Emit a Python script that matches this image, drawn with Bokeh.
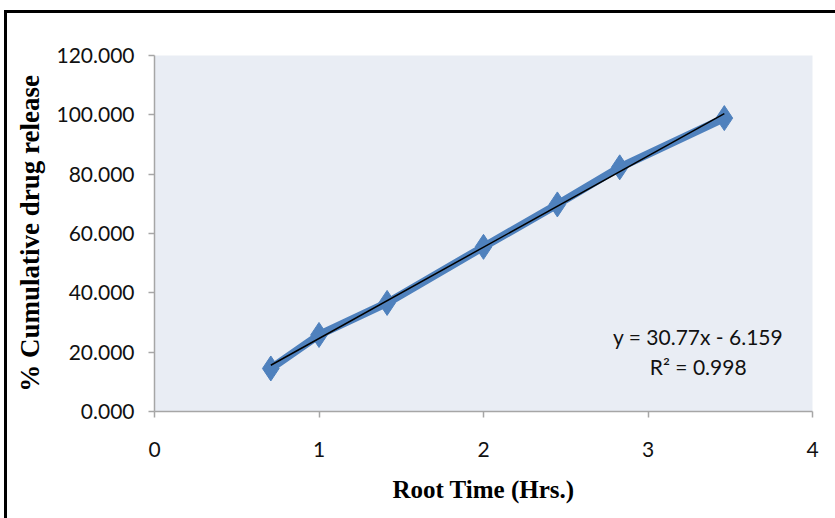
from bokeh.plotting import figure
from bokeh.models import (ColumnDataSource, NumeralTickFormatter, FixedTicker, Range1d,
                          Label)
from bokeh.embed import file_html
from bokeh.resources import INLINE

# ---- data ----
root_time = [0.707, 1.000, 1.414, 2.000, 2.449, 2.828, 3.464]
cum_release = [14.5, 25.8, 36.6, 55.5, 69.8, 82.3, 98.9]
trend_slope = 30.77
trend_intercept = -6.159
r_squared = 0.998
x_ticks = [0, 1, 2, 3, 4]
y_ticks = [0, 20, 40, 60, 80, 100, 120]

BLUE = "#4F81BD"

p = figure(width=828, height=505, output_backend="svg", toolbar_location=None,
           x_range=Range1d(0, 4), y_range=Range1d(0, 120),
           min_border_left=147, min_border_right=23, min_border_top=42,
           min_border_bottom=107, frame_width=658, frame_height=356,
           styles={"border-left": "3px solid black", "border-top": "3px solid black",
                   "margin-left": "4px", "margin-top": "10px"})
p.background_fill_color = "#E9EDF4"
p.border_fill_color = "white"
p.outline_line_color = None
p.xgrid.visible = False
p.ygrid.visible = False

src = ColumnDataSource(dict(x=root_time, y=cum_release))
p.line("x", "y", source=src, line_color=BLUE, line_width=8)
p.scatter("x", "y", source=src, marker="diamond", size=25, fill_color=BLUE,
          line_color=BLUE)

tx = [root_time[0], root_time[-1]]
ty = [trend_slope * v + trend_intercept for v in tx]
p.line(tx, ty, line_color="black", line_width=1.5)

p.add_layout(Label(x=3.305, y=25.3, text=f"y = {trend_slope}x - {abs(trend_intercept)}",
                   text_align="center", text_baseline="middle", text_font="Lato",
                   text_font_size="21px", text_color="#111111"))
p.add_layout(Label(x=3.305, y=15.2, text=f"R² = {r_squared}",
                   text_align="center", text_baseline="middle", text_font="Lato",
                   text_font_size="21px", text_color="#111111"))

for ax in (p.xaxis[0], p.yaxis[0]):
    ax.axis_line_color = "#A6A6A6"
    ax.axis_line_width = 1.5
    ax.major_tick_line_color = "#A6A6A6"
    ax.major_tick_line_width = 1.5
    ax.major_tick_out = 6
    ax.major_tick_in = 0
    ax.minor_tick_out = 0
    ax.minor_tick_in = 0
    ax.major_label_text_font = "Lato"
    ax.major_label_text_font_size = "21px"
    ax.major_label_text_color = "#111111"
    ax.axis_label_text_font = "Liberation Serif"
    ax.axis_label_text_font_style = "bold"
    ax.axis_label_text_color = "black"

p.xaxis.axis_label_text_font_size = "25px"
p.yaxis.axis_label_text_font_size = "27px"
p.xaxis.ticker = FixedTicker(ticks=x_ticks)
p.yaxis.ticker = FixedTicker(ticks=y_ticks)
p.yaxis.formatter = NumeralTickFormatter(format="0.000")
p.xaxis.axis_label = "Root Time (Hrs.)"
p.yaxis.axis_label = "% Cumulative drug release"
p.xaxis.major_label_standoff = 24
p.xaxis.axis_label_standoff = 16
p.yaxis.major_label_standoff = 14
p.yaxis.axis_label_standoff = 8

open("out.html", "w").write(file_html(p, INLINE))
